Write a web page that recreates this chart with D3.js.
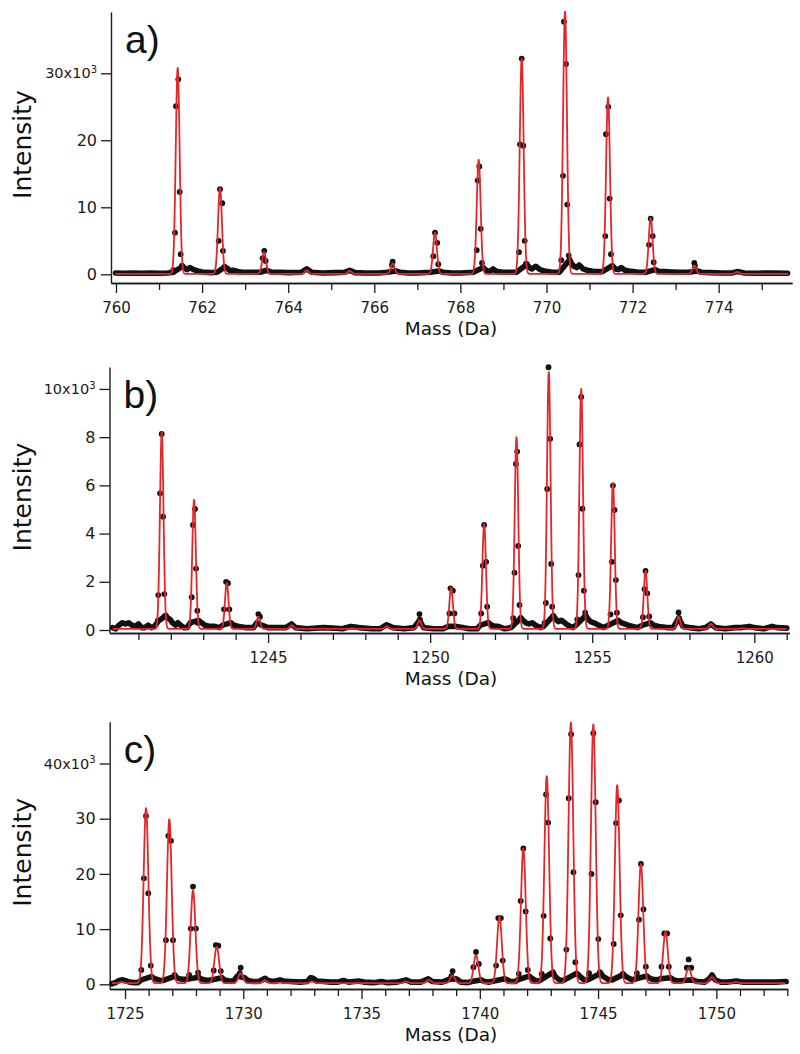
<!DOCTYPE html>
<html><head><meta charset="utf-8">
<script src="https://cdn.jsdelivr.net/npm/d3@7"></script>
<style>body{margin:0;background:#fff} svg{display:block;background:#fff}</style>
</head><body><svg id="chart" width="800" height="1054"></svg>
<script>
// ---------------- DATA ----------------
const panelLabels = ["a)", "b)", "c)"];
const xTitle = "Mass (Da)";
const yTitle = "Intensity";

// axis ranges (Da, and intensity in thousands)
const xRangeA = [759.884, 775.703], yRangeA = [-1.30, 39.15];
const xRangeB = [1240.108, 1261.08], yRangeB = [-0.124, 10.91];
const xRangeC = [1724.353, 1753.0], yRangeC = [-0.85, 47.57];

// tick values
const xMajorA = [760, 762, 764, 766, 768, 770, 772, 774];
const xMinorA = [761, 763, 765, 767, 769, 771, 773, 775];
const yTicksA = [0, 10, 20, 30];
const xMajorB = [1245, 1250, 1255, 1260];
const xMinorB = [1241,1242,1243,1244,1246,1247,1248,1249,1251,1252,1253,1254,1256,1257,1258,1259,1261];
const yTicksB = [0, 2, 4, 6, 8, 10];
const xMajorC = [1725, 1730, 1735, 1740, 1745, 1750];
const xMinorC = [1726,1727,1728,1729,1731,1732,1733,1734,1736,1737,1738,1739,1741,1742,1743,1744,1746,1747,1748,1749,1751,1752,1753];
const yTicksC = [0, 10, 20, 30, 40];

// fitted isotope peaks (red curve): [center mass, apex intensity (x10^3)]
const fitPeaksA = [[761.433,30.8],[762.416,12.9],[763.44,3.3],[764.43,0.6],[765.43,0.5],[766.427,1.6],[767.41,6.2],[768.425,17.1],[769.424,32.2],[770.43,39.2],[771.429,26.4],[772.42,8.4],[773.433,1.3],[774.43,0.35]];
const fitWidthA = 0.045, fitBaseA = 0.05;
const fitPeaksB = [[1241.719,8.2],[1242.716,5.4],[1243.725,1.95],[1244.70,0.55],[1245.73,0.2],[1246.7,0.06],[1247.6,0.07],[1248.66,0.15],[1249.67,0.4],[1250.648,1.77],[1251.667,4.4],[1252.664,8.0],[1253.66,10.7],[1254.66,10.0],[1255.639,6.1],[1256.645,2.45],[1257.664,0.55],[1258.66,0.25],[1259.65,0.07]];
const fitWidthB = 0.055, fitBaseB = 0.05;
const fitPeaksC = [[1724.85,0.4],[1725.888,31.9],[1726.873,29.9],[1727.875,17.0],[1728.877,6.8],[1729.89,2.0],[1730.92,0.7],[1731.55,0.3],[1732.9,0.5],[1733.9,0.2],[1734.87,0.25],[1735.85,0.2],[1736.88,0.5],[1737.84,0.8],[1738.85,1.6],[1739.84,5.3],[1740.83,12.3],[1741.84,24.6],[1742.83,37.7],[1743.85,47.4],[1744.80,47.1],[1745.81,36.1],[1746.81,21.8],[1747.85,9.5],[1748.83,3.0],[1749.82,1.3],[1750.84,0.4]];
const fitWidthC = 0.1, fitBaseC = 0.2;

// measured points on the peaks: [mass, intensity (x10^3)]
const peakPointsA = [
 [761.33,0.6],[761.37,6.2],[761.394,25.1],[761.447,29.1],[761.48,12.3],[761.503,3.0],[761.533,1.3],
 [762.386,5.0],[762.416,12.7],[762.469,10.6],[762.485,3.5],[762.516,1.1],
 [763.408,2.4],[763.445,3.5],[763.477,2.0],
 [766.41,1.4],[766.427,1.9],
 [767.371,2.7],[767.41,6.2],[767.463,4.7],[767.487,1.5],
 [768.379,3.6],[768.402,14.0],[768.439,16.1],[768.472,6.8],[768.502,1.7],
 [769.361,3.3],[769.384,19.4],[769.424,32.2],[769.461,19.2],[769.494,5.0],[769.524,1.6],
 [770.344,2.1],[770.383,14.7],[770.406,37.7],[770.453,31.4],[770.483,10.4],[770.516,2.8],
 [771.366,5.7],[771.382,20.9],[771.436,25.0],[771.468,11.3],[771.498,3.0],
 [772.381,4.4],[772.42,8.3],[772.467,5.7],[772.49,1.8],
 [773.433,1.7],[773.45,1.3]
];
const peakPointsB = [
 [1241.60,0.39],[1241.614,1.45],[1241.667,5.67],[1241.719,8.13],[1241.759,4.70],[1241.80,1.49],[1241.81,0.58],
 [1242.645,1.36],[1242.685,4.36],[1242.747,5.02],[1242.778,2.55],[1242.818,0.80],[1242.83,0.3],
 [1243.642,0.86],[1243.704,2.0],[1243.765,1.94],[1243.806,0.86],
 [1244.70,0.66],[1244.75,0.55],
 [1249.67,0.66],[1249.68,0.44],
 [1250.596,0.69],[1250.627,1.73],[1250.70,1.63],[1250.75,0.69],
 [1251.574,0.69],[1251.626,2.67],[1251.667,4.36],[1251.728,2.83],[1251.759,0.97],[1251.79,0.3],
 [1252.562,0.49],[1252.602,2.38],[1252.645,6.89],[1252.685,7.40],[1252.716,3.49],[1252.756,1.04],[1252.79,0.5],
 [1253.53,0.3],[1253.571,1.12],[1253.611,5.85],[1253.651,10.9],[1253.704,7.93],[1253.735,2.74],[1253.765,0.97],
 [1254.54,0.44],[1254.577,2.28],[1254.608,7.7],[1254.66,9.67],[1254.70,5.03],[1254.744,1.63],[1254.784,0.72],
 [1255.565,0.65],[1255.608,2.83],[1255.639,5.99],[1255.688,4.98],[1255.731,2.07],[1255.762,0.72],
 [1256.565,0.53],[1256.614,1.69],[1256.645,2.45],[1256.698,1.52],[1256.759,0.56],
 [1257.664,0.73],[1257.68,0.49]
];
const peakPointsC = [
 [1725.69,2.6],[1725.80,19.2],[1725.888,30.5],[1725.985,16.5],[1726.09,3.4],
 [1726.73,8.0],[1726.83,26.9],[1726.945,26.0],[1727.03,8.0],[1727.10,1.7],
 [1727.71,1.7],[1727.78,10.1],[1727.875,17.7],[1728.00,10.1],[1728.09,2.1],
 [1728.75,2.5],[1728.835,7.1],[1728.945,7.0],[1729.05,2.4],
 [1729.85,2.0],[1729.89,3.0],
 [1738.80,1.5],[1738.85,2.4],
 [1739.73,3.1],[1739.84,5.85],[1739.96,3.7],
 [1740.69,3.4],[1740.78,12.0],[1740.89,12.0],[1740.97,4.3],
 [1741.65,1.9],[1741.73,15.1],[1741.84,24.6],[1741.94,13.2],[1742.03,2.6],
 [1742.62,1.9],[1742.70,12.4],[1742.80,34.4],[1742.89,29.3],[1742.98,8.3],[1743.07,1.9],
 [1743.66,6.3],[1743.76,33.7],[1743.86,45.3],[1743.96,20.3],[1744.04,4.0],
 [1744.62,2.0],[1744.72,20.0],[1744.80,45.5],[1744.90,33.0],[1745.01,8.2],[1745.08,2.2],
 [1745.66,7.3],[1745.76,29.2],[1745.88,33.3],[1745.96,12.5],[1746.04,1.9],
 [1746.64,2.0],[1746.73,11.7],[1746.81,21.8],[1746.92,13.6],[1747.02,3.2],
 [1747.68,3.2],[1747.80,9.2],[1747.92,9.2],[1747.99,3.2],
 [1748.75,3.0],[1748.83,4.5],[1748.94,3.0]
];

// dense low-level data between the peaks: [mass, intensity (x10^3)]
const baselineA = [[759.99,0.2],[760.2,0.15],[760.4,0.2],[760.6,0.15],[760.8,0.2],[761.0,0.15],[761.2,0.2],[761.33,0.3],[761.55,1.2],[761.6,0.9],[761.65,0.7],[761.72,1.0],[761.8,0.7],[761.9,0.5],[762.0,0.35],[762.2,0.25],[762.35,0.3],[762.53,1.1],[762.6,0.8],[762.66,0.5],[762.72,0.6],[762.8,0.45],[762.9,0.35],[763.1,0.3],[763.35,0.3],[763.5,0.6],[763.6,0.35],[763.8,0.3],[764.0,0.25],[764.3,0.3],[764.43,0.8],[764.55,0.3],[764.8,0.2],[765.1,0.25],[765.3,0.3],[765.43,0.6],[765.55,0.25],[765.8,0.2],[766.1,0.2],[766.3,0.3],[766.5,0.5],[766.6,0.3],[766.8,0.2],[767.0,0.2],[767.3,0.3],[767.5,0.5],[767.6,0.3],[767.8,0.2],[768.0,0.2],[768.3,0.3],[768.53,1.0],[768.6,0.6],[768.68,0.4],[768.76,0.8],[768.85,0.4],[769.0,0.3],[769.2,0.3],[769.3,0.3],[769.55,1.5],[769.6,1.0],[769.66,0.8],[769.75,1.2],[769.85,0.7],[769.95,0.5],[770.1,0.35],[770.3,0.3],[770.54,2.2],[770.58,1.6],[770.64,1.2],[770.7,1.0],[770.76,1.4],[770.85,0.8],[770.95,0.6],[771.1,0.4],[771.3,0.4],[771.53,1.3],[771.6,0.8],[771.67,0.7],[771.74,1.0],[771.82,0.6],[771.92,0.5],[772.1,0.35],[772.3,0.3],[772.53,0.7],[772.6,0.45],[772.75,0.4],[772.9,0.35],[773.1,0.3],[773.3,0.3],[773.5,0.5],[773.6,0.3],[773.8,0.25],[774.1,0.2],[774.3,0.2],[774.43,0.4],[774.6,0.2],[774.9,0.15],[775.2,0.2],[775.6,0.15]];
const baselineB = [[1240.2,0.1],[1240.3,0.05],[1240.4,0.2],[1240.5,0.3],[1240.6,0.25],[1240.7,0.3],[1240.8,0.2],[1240.9,0.15],[1241.0,0.25],[1241.1,0.1],[1241.2,0.1],[1241.3,0.2],[1241.4,0.1],[1241.5,0.15],[1241.6,0.35],[1241.85,0.6],[1241.9,0.5],[1241.97,0.45],[1242.05,0.3],[1242.15,0.2],[1242.22,0.3],[1242.3,0.2],[1242.4,0.1],[1242.5,0.1],[1242.6,0.3],[1242.85,0.4],[1242.95,0.3],[1243.05,0.2],[1243.2,0.15],[1243.35,0.15],[1243.5,0.1],[1243.6,0.2],[1243.85,0.3],[1243.95,0.2],[1244.1,0.15],[1244.3,0.1],[1244.55,0.1],[1244.65,0.3],[1244.8,0.2],[1245.0,0.1],[1245.3,0.1],[1245.55,0.1],[1245.72,0.25],[1245.85,0.1],[1246.2,0.05],[1246.7,0.1],[1247.0,0.08],[1247.3,0.05],[1247.55,0.15],[1247.8,0.1],[1248.2,0.05],[1248.45,0.05],[1248.66,0.22],[1248.85,0.1],[1249.2,0.05],[1249.5,0.1],[1249.67,0.4],[1249.8,0.1],[1250.1,0.05],[1250.4,0.05],[1250.55,0.15],[1250.8,0.15],[1251.0,0.1],[1251.2,0.05],[1251.45,0.05],[1251.55,0.2],[1251.8,0.3],[1251.9,0.2],[1252.0,0.15],[1252.1,0.15],[1252.3,0.05],[1252.5,0.1],[1252.8,0.5],[1252.87,0.4],[1252.95,0.3],[1253.05,0.25],[1253.15,0.3],[1253.25,0.2],[1253.4,0.1],[1253.5,0.15],[1253.8,0.6],[1253.87,0.45],[1253.95,0.35],[1254.05,0.4],[1254.15,0.3],[1254.25,0.2],[1254.4,0.1],[1254.5,0.2],[1254.8,0.6],[1254.87,0.45],[1254.95,0.35],[1255.05,0.3],[1255.2,0.2],[1255.35,0.1],[1255.5,0.2],[1255.8,0.4],[1255.9,0.3],[1256.0,0.25],[1256.1,0.2],[1256.25,0.15],[1256.4,0.1],[1256.55,0.2],[1256.8,0.3],[1256.9,0.2],[1257.05,0.15],[1257.3,0.1],[1257.5,0.1],[1257.67,0.5],[1257.8,0.15],[1258.0,0.1],[1258.3,0.05],[1258.5,0.1],[1258.66,0.25],[1258.8,0.1],[1259.1,0.05],[1259.4,0.1],[1259.6,0.1],[1259.85,0.15],[1260.0,0.1],[1260.3,0.05],[1260.55,0.15],[1260.7,0.1],[1261.0,0.08]];
const baselineC = [[1724.45,0.1],[1724.6,0.3],[1724.75,0.7],[1724.9,0.8],[1725.05,0.6],[1725.2,0.4],[1725.4,0.3],[1725.55,0.3],[1725.69,0.8],[1726.12,1.4],[1726.25,1.0],[1726.35,0.9],[1726.5,0.7],[1726.62,0.7],[1727.12,1.5],[1727.2,1.2],[1727.3,1.0],[1727.45,0.9],[1727.6,0.9],[1728.12,1.3],[1728.2,1.0],[1728.35,0.8],[1728.5,0.7],[1728.65,0.8],[1729.1,1.2],[1729.2,0.8],[1729.4,0.6],[1729.6,0.6],[1729.75,1.5],[1730.05,1.2],[1730.2,0.7],[1730.4,0.5],[1730.65,0.5],[1730.8,0.8],[1730.92,1.1],[1731.05,0.7],[1731.3,0.5],[1731.55,0.8],[1731.7,0.6],[1732.0,0.5],[1732.4,0.4],[1732.7,0.5],[1732.85,1.2],[1732.95,1.1],[1733.1,0.6],[1733.4,0.5],[1733.7,0.4],[1734.0,0.4],[1734.23,0.7],[1734.45,0.4],[1734.87,0.6],[1735.1,0.4],[1735.5,0.3],[1735.85,0.5],[1736.1,0.3],[1736.5,0.4],[1736.88,0.8],[1737.1,0.4],[1737.5,0.4],[1737.82,1.0],[1738.0,0.5],[1738.4,0.4],[1738.7,0.9],[1739.0,1.0],[1739.2,0.4],[1739.5,0.3],[1739.65,0.5],[1740.05,0.8],[1740.2,0.5],[1740.4,0.4],[1740.6,0.6],[1741.05,1.0],[1741.15,0.8],[1741.3,0.5],[1741.5,0.5],[1741.6,0.8],[1742.08,1.5],[1742.17,1.2],[1742.3,0.8],[1742.45,0.5],[1742.58,0.8],[1743.1,2.2],[1743.17,1.5],[1743.3,1.0],[1743.45,0.6],[1743.58,0.8],[1744.1,2.0],[1744.2,1.6],[1744.3,1.2],[1744.45,0.7],[1744.55,0.8],[1745.12,2.0],[1745.2,1.5],[1745.3,1.2],[1745.45,0.8],[1745.6,0.8],[1746.08,1.8],[1746.15,1.5],[1746.3,1.1],[1746.45,0.8],[1746.6,1.0],[1747.07,1.5],[1747.15,1.2],[1747.3,0.9],[1747.5,0.8],[1747.65,1.0],[1748.05,1.2],[1748.2,0.8],[1748.4,0.6],[1748.6,0.7],[1749.0,0.8],[1749.2,0.5],[1749.5,0.4],[1749.7,1.0],[1749.82,1.7],[1749.95,0.8],[1750.2,0.4],[1750.5,0.4],[1750.84,0.6],[1751.1,0.4],[1751.5,0.4],[1752.0,0.4],[1752.5,0.4],[1752.95,0.5]];

// ---------------- LAYOUT ----------------
const panels = [
  {label: panelLabels[0], left:111, right:792, top:12, bottom:283, xDomain:xRangeA, yDomain:yRangeA,
   xMajor:xMajorA, xMinor:xMinorA, yTicks:yTicksA, fit:fitPeaksA, sigma:fitWidthA, base:fitBaseA,
   points:peakPointsA, baseline:baselineA, step:0.003},
  {label: panelLabels[1], left:109.5, right:789.3, top:367, bottom:633, xDomain:xRangeB, yDomain:yRangeB,
   xMajor:xMajorB, xMinor:xMinorB, yTicks:yTicksB, fit:fitPeaksB, sigma:fitWidthB, base:fitBaseB,
   points:peakPointsB, baseline:baselineB, step:0.004},
  {label: panelLabels[2], left:109.7, right:787.3, top:721.7, bottom:989, xDomain:xRangeC, yDomain:yRangeC,
   xMajor:xMajorC, xMinor:xMinorC, yTicks:yTicksC, fit:fitPeaksC, sigma:fitWidthC, base:fitBaseC,
   points:peakPointsC, baseline:baselineC, step:0.006}
];

const RED = "#e4262a";
const INK = "#1b1b1b";
const FONT = "'DejaVu Sans', Verdana, sans-serif";
const svg = d3.select("#chart");
svg.append("rect").attr("width",800).attr("height",1054).attr("fill","#fff");

panels.forEach(p => {
  const x = d3.scaleLinear().domain(p.xDomain).range([p.left, p.right]);
  const y = d3.scaleLinear().domain(p.yDomain).range([p.bottom, p.top]);
  const g = svg.append("g");

  // fitted model curve evaluated from the fitted peak parameters
  const xs = d3.range(p.xDomain[0] + 0.1, p.xDomain[1] - 0.08, p.step);
  const fitCurve = xs.map(m => [m, p.base + d3.sum(p.fit, ([c, h]) => (h - p.base) * Math.exp(-((m - c) ** 2) / (2 * p.sigma * p.sigma)))]);

  // baseline band of data
  g.append("path").datum(p.baseline)
    .attr("d", d3.line().x(d => x(d[0])).y(d => y(d[1])))
    .attr("fill","none").attr("stroke","#111").attr("stroke-width",5.6)
    .attr("stroke-linejoin","round").attr("stroke-linecap","round");

  // data points
  g.append("g").selectAll("circle").data(p.points).join("circle")
    .attr("cx", d => x(d[0])).attr("cy", d => y(d[1])).attr("r", 2.9).attr("fill","#111");

  // red fit
  g.append("path").datum(fitCurve)
    .attr("d", d3.line().x(d => x(d[0])).y(d => y(d[1])))
    .attr("fill","none").attr("stroke",RED).attr("stroke-width",1.8).attr("stroke-linejoin","round");

  // axes
  const minorAx = g.append("g").attr("transform",`translate(0,${p.bottom})`)
    .call(d3.axisBottom(x).tickValues(p.xMinor).tickSize(7).tickSizeOuter(0).tickFormat(""));
  const majorAx = g.append("g").attr("transform",`translate(0,${p.bottom})`)
    .call(d3.axisBottom(x).tickValues(p.xMajor).tickSize(10).tickSizeOuter(0).tickPadding(9).tickFormat(d3.format("d")));
  const yAx = g.append("g").attr("transform",`translate(${p.left},0)`)
    .call(d3.axisLeft(y).tickValues(p.yTicks).tickSize(10).tickSizeOuter(0).tickPadding(4).tickFormat(d3.format("d")));
  [minorAx, majorAx, yAx].forEach(a => {
    a.selectAll("path.domain").attr("stroke",INK).attr("stroke-width",1.4);
    a.selectAll(".tick line").attr("stroke",INK).attr("stroke-width",1.3);
    a.selectAll("text").attr("fill",INK).attr("font-family",FONT);
  });
  majorAx.selectAll("text").attr("font-size",15);
  yAx.selectAll("text").attr("font-size",16);
  const topTick = p.yTicks[p.yTicks.length - 1];
  yAx.selectAll(".tick text").filter(d => d === topTick).each(function(d) {
    const t = d3.select(this);
    t.text(null).attr("font-size",14.5);
    t.append("tspan").text(d + "x10");
    t.append("tspan").attr("dy","-0.55em").attr("font-size",10).text("3");
  });

  // panel letter
  g.append("text").attr("x", p.left + 14).attr("y", p.top + 41)
    .attr("font-family","'Liberation Sans', Arial, sans-serif").attr("font-size",39).attr("fill","#111")
    .text(p.label);
  // axis titles
  g.append("text").attr("transform",`translate(31,${(p.top + p.bottom)/2 - 3}) rotate(-90)`)
    .attr("text-anchor","middle").attr("font-family",FONT)
    .attr("font-size",25).attr("fill","#111").text(yTitle);
  g.append("text").attr("x",451).attr("y",p.bottom + 52).attr("text-anchor","middle")
    .attr("font-family",FONT).attr("font-size",18.5).attr("fill","#111")
    .text(xTitle);
});
</script>
</body></html>
